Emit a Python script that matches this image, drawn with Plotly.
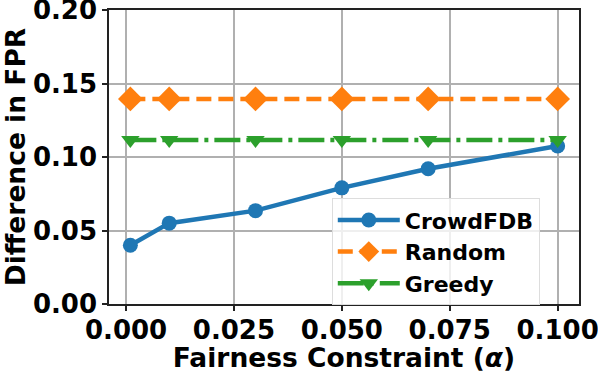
import plotly.graph_objects as go

alpha = [0.001, 0.01, 0.03, 0.05, 0.07, 0.1]
crowdfdb = [0.040, 0.055, 0.0635, 0.079, 0.092, 0.1075]
random_ = [0.1395, 0.1395, 0.1395, 0.1395, 0.1395, 0.1395]
greedy = [0.1115, 0.1115, 0.1115, 0.1115, 0.1115, 0.1115]

x_ticks = [0.0, 0.025, 0.05, 0.075, 0.1]
x_tick_labels = ['0.000', '0.025', '0.050', '0.075', '0.100']
y_ticks = [0.0, 0.05, 0.10, 0.15, 0.20]
y_tick_labels = ['0.00', '0.05', '0.10', '0.15', '0.20']

fig = go.Figure()
fig.add_trace(go.Scatter(x=alpha, y=crowdfdb, name='CrowdFDB', mode='lines+markers',
                         line=dict(color='#1f77b4', width=4.5),
                         marker=dict(symbol='circle', size=15, color='#1f77b4')))
fig.add_trace(go.Scatter(x=alpha, y=random_, name='Random', mode='lines+markers',
                         line=dict(color='#ff7f0e', width=4.5, dash='15px,7px'),
                         marker=dict(symbol='diamond', size=19, color='#ff7f0e')))
fig.add_trace(go.Scatter(x=alpha, y=greedy, name='Greedy', mode='lines+markers',
                         line=dict(color='#2ca02c', width=4.5, dash='26px,6px,4px,6px'),
                         marker=dict(symbol='triangle-down', size=16, color='#2ca02c')))

axis_common = dict(showline=True, linecolor='#222222', linewidth=1.5, mirror=True,
                   showgrid=True, gridcolor='#b0b0b0', gridwidth=2,
                   ticks='outside', ticklen=5, tickwidth=1.5, tickcolor='#222222',
                   zeroline=False, automargin=False, ticklabeloverflow='allow',
                   tickfont=dict(size=26, color='black', family='DejaVu Sans', weight='bold'))

fig.update_xaxes(range=[-0.00395, 0.10495], tickvals=x_ticks, ticktext=x_tick_labels,
                 ticklabelstandoff=-3,
                 title=dict(text='Fairness Constraint (<i>α</i>)',
                            font=dict(size=26.5, color='black', family='DejaVu Sans', weight='bold')),
                 **axis_common)
fig.update_yaxes(range=[0, 0.2], tickvals=y_ticks, ticktext=y_tick_labels,
                 title=dict(text='Difference in FPR',
                            font=dict(size=26.5, color='black', family='DejaVu Sans', weight='bold')),
                 **axis_common)

fig.update_layout(width=598, height=373,
                  margin=dict(l=109, r=19, t=10, b=69),
                  plot_bgcolor='white', paper_bgcolor='white',
                  font=dict(family='DejaVu Sans', color='black'),
                  legend=dict(x=0.474, y=0.36, xanchor='left', yanchor='top',
                              bgcolor='rgba(255,255,255,0.8)', bordercolor='#dddddd', borderwidth=1,
                              font=dict(size=22, color='black', family='DejaVu Sans', weight='bold'),
                              itemwidth=62, tracegroupgap=0),
                  showlegend=True)

fig.write_html("out.html", config={'displayModeBar': False},
               post_script="document.body.style.margin='0';")
